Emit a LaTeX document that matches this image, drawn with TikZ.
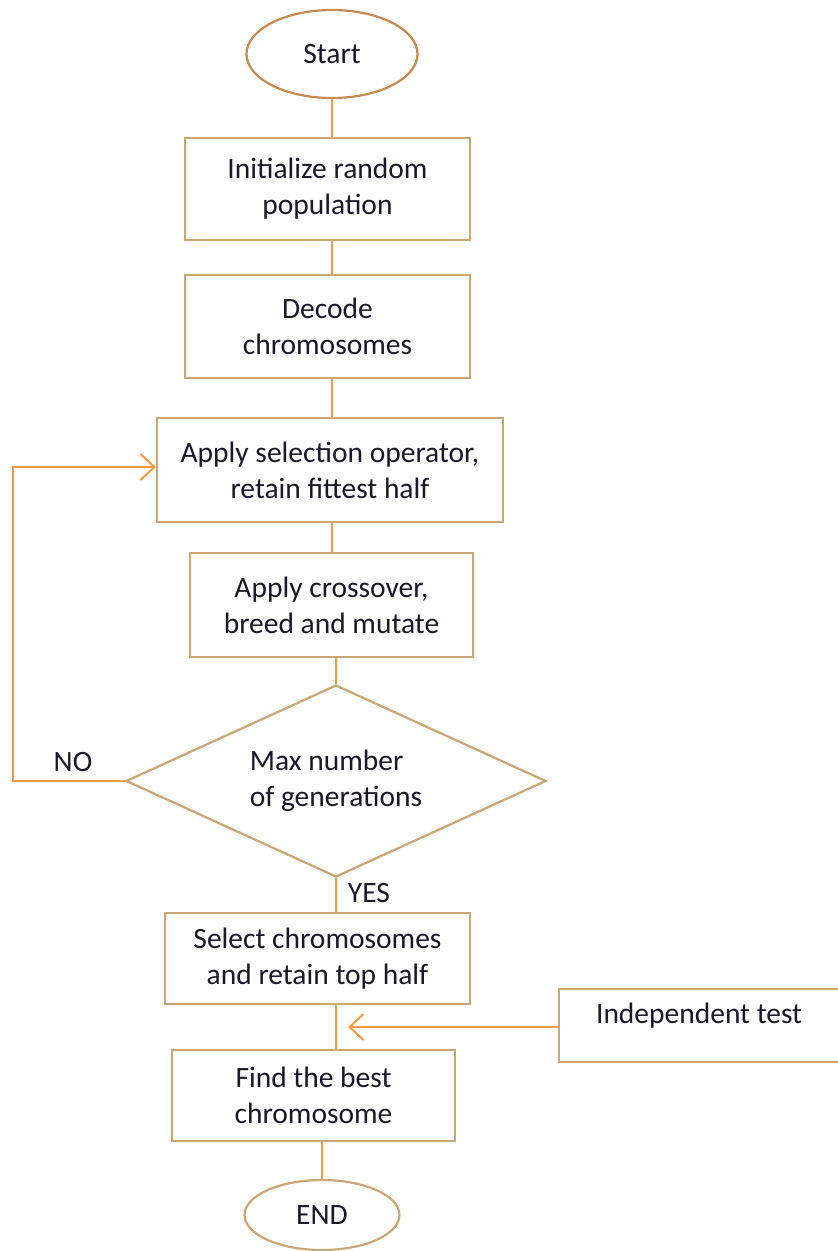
\documentclass[tikz,border=0pt]{standalone}
\usepackage{fontspec}
\setmainfont{Carlito}
\usetikzlibrary{shapes.geometric,arrows.meta}
\definecolor{boxline}{HTML}{C8A676}
\definecolor{startline}{HTML}{C58A4E}
\definecolor{flow}{HTML}{F39A45}
\definecolor{ink}{HTML}{181826}
\begin{document}
\begin{tikzpicture}[x=1pt,y=-1pt,
  every node/.style={font=\fontsize{29.5}{36}\selectfont, text=ink},
  procbox/.style={draw=boxline, line width=2.2pt, rectangle, align=center, inner sep=0pt},
  terminal/.style={draw=#1, line width=2.2pt, ellipse, inner sep=0pt},
  decision/.style={draw=boxline, line width=2.2pt, diamond, inner sep=0pt, shape aspect=2.19, align=left},
  link/.style={draw=flow, line width=2pt},
  openarrow/.style={link, -{Straight Barb[length=14pt,width=26pt,line width=2pt]}},
  tag/.style={inner sep=0pt}]
\useasboundingbox (0,0) rectangle (838,1251);

% terminals
\node[terminal=startline, minimum width=171, minimum height=88] (start) at (332,54) {Start};
\node[terminal=boxline, minimum width=155, minimum height=70] (finish) at (322,1215) {END};

% process steps
\node[procbox, minimum width=285, minimum height=102] (init) at (327.5,189) {Initialize random\\population};
\node[procbox, minimum width=285, minimum height=103] (decode) at (327.5,326.5) {Decode\\chromosomes};
\node[procbox, minimum width=346, minimum height=104] (select) at (330,470) {Apply selection operator,\\retain fittest half};
\node[procbox, minimum width=283, minimum height=104] (cross) at (331.5,605) {Apply crossover,\\breed and mutate};
\node[decision, minimum width=420, minimum height=192] (maxgen) at (336,781) {Max number\\of generations};
\node[procbox, minimum width=305, minimum height=91] (tophalf) at (317.5,958.5) {Select chromosomes\\and retain top half};
\node[procbox, minimum width=283, minimum height=91] (best) at (313.5,1095.5) {Find the best\\chromosome};
\node[procbox, minimum width=280, minimum height=73, anchor=north west] (indep) at (558,988)
  {\raisebox{10pt}[\height][\depth]{Independent test}};

% decision labels
\node[tag] (nolbl) at (73,762) {NO};
\node[tag] (yeslbl) at (369,893) {YES};

% helper points
\coordinate (loop) at (13,467);
\coordinate (tip) at (348,1027);

% main flow
\draw[link] (start.south) -- (start.south |- init.north);
\draw[link] (start.south |- init.south) -- (start.south |- decode.north);
\draw[link] (start.south |- decode.south) -- (start.south |- select.north);
\draw[link] (start.south |- select.south) -- (start.south |- cross.north);
\draw[link] (maxgen.north |- cross.south) -- (maxgen.north);
\draw[link] (maxgen.south) -- (maxgen.south |- tophalf.north);
\draw[link] (maxgen.south |- tophalf.south) -- (maxgen.south |- best.north);
\draw[link] (finish.north |- best.south) -- (finish.north);

% loop back when the generation limit is not reached
\draw[openarrow] (maxgen.west) -| (loop) -- (loop -| select.west);

% independent test feeding in
\draw[openarrow] (indep.west |- tip) -- (tip);
\end{tikzpicture}
\end{document}
